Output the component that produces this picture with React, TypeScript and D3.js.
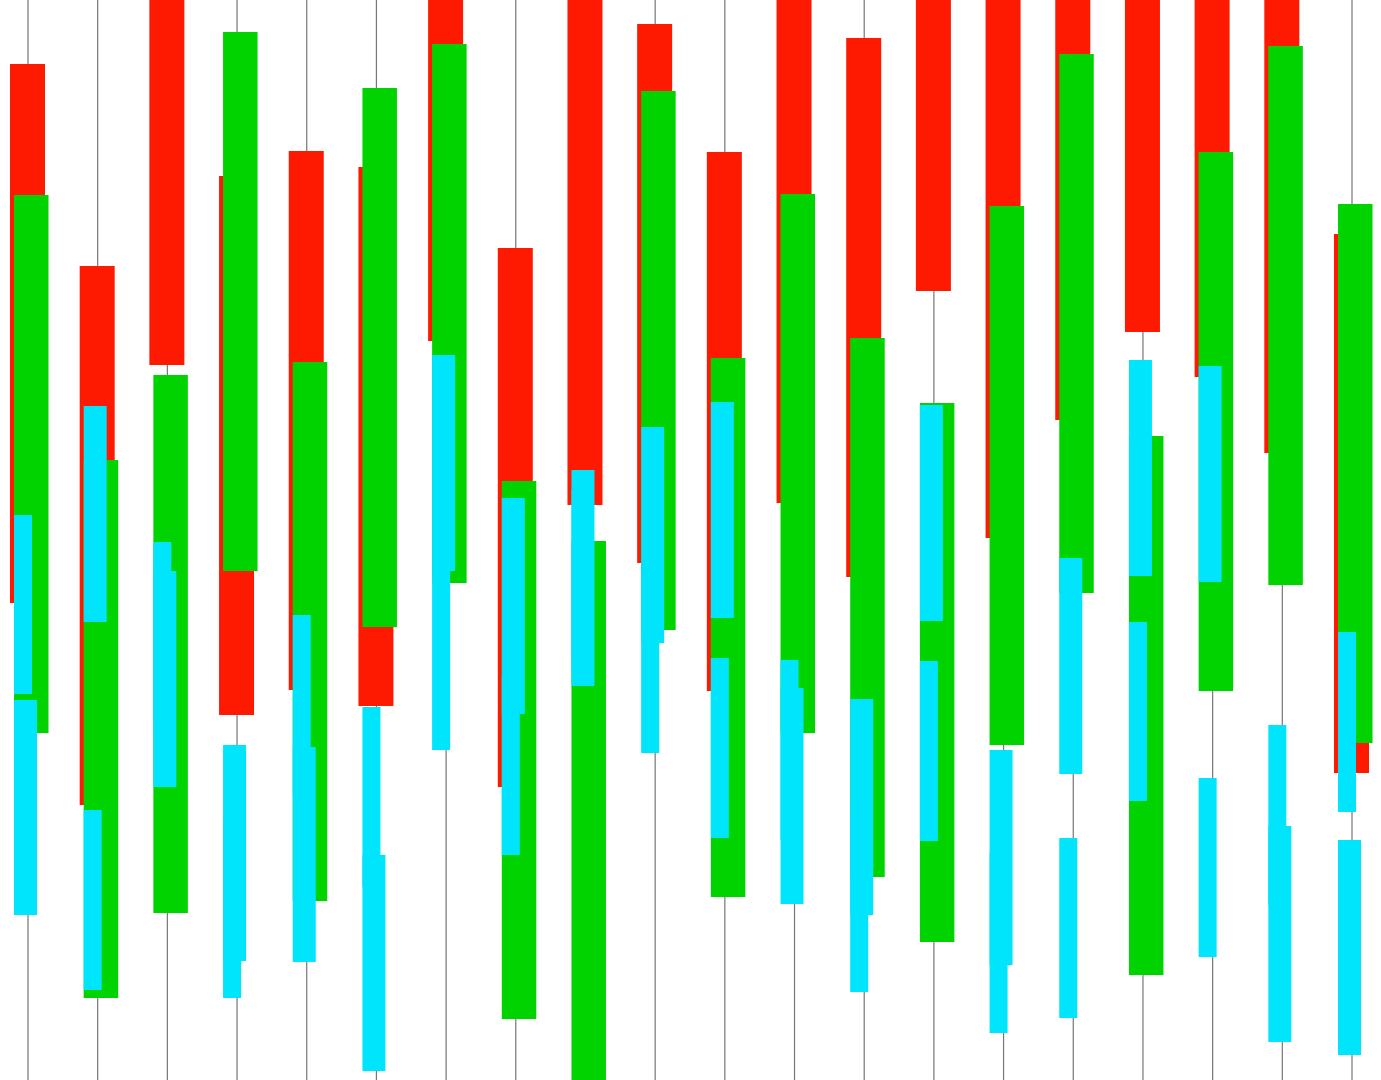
import * as d3 from "d3";
import React from "react";

// 20 sessions, no labels shown on the chart
const categories = [
  "D1", "D2", "D3", "D4", "D5", "D6", "D7", "D8", "D9", "D10",
  "D11", "D12", "D13", "D14", "D15", "D16", "D17", "D18", "D19", "D20",
];

// [high, low] of each body, in price units
const redBodies: [number, number][] = [
  [101.6, 47.7], [81.4, 27.5], [125.4, 71.5], [90.4, 36.5], [92.9, 39.0],
  [91.3, 37.4], [127.8, 73.9], [83.2, 29.3], [111.4, 57.5], [105.6, 51.7],
  [92.8, 38.9], [111.6, 57.7], [104.2, 50.3], [132.8, 78.9], [108.1, 54.2],
  [119.9, 66.0], [128.7, 74.8], [124.2, 70.3], [116.6, 62.7], [84.6, 30.7],
];

const greenBodies: [number, number][] = [
  [88.5, 34.7], [62.0, 8.2], [70.5, 16.7], [104.8, 50.9], [71.8, 17.9],
  [99.2, 45.3], [103.6, 49.7], [59.9, 6.1], [53.9, 0.0], [98.9, 45.0],
  [72.2, 18.3], [88.6, 34.7], [74.2, 20.3], [67.7, 13.8], [87.4, 33.5],
  [102.6, 48.7], [64.4, 10.5], [92.8, 38.9], [103.4, 49.5], [87.6, 33.7],
];

const cyanNarrowBodies: [number, number][] = [
  [56.5, 38.6], [27.0, 9.0], [53.8, 35.8], [26.2, 8.2], [46.5, 28.5],
  [37.3, 19.3], [51.0, 33.0], [40.5, 22.5], [59.0, 41.0], [50.7, 32.7],
  [42.2, 24.2], [42.0, 24.0], [26.8, 8.8], [41.9, 23.9], [22.7, 4.7],
  [24.2, 6.2], [45.8, 27.9], [30.2, 12.3], [35.5, 17.5], [44.8, 26.8],
];

const cyanWideBodies: [number, number][] = [
  [38.0, 16.5], [67.4, 45.8], [50.9, 29.3], [33.5, 11.9], [33.3, 11.8],
  [22.5, 0.9], [72.5, 50.9], [58.2, 36.6], [61.0, 39.4], [65.3, 43.7],
  [67.8, 46.2], [39.2, 17.6], [38.1, 16.5], [67.5, 45.9], [33.0, 11.5],
  [52.2, 30.6], [72.0, 50.4], [71.4, 49.8], [25.4, 3.8], [24.0, 2.5],
];

// wicks run past the visible range
const wickHigh = [140, 140, 140, 140, 140, 140, 140, 140, 140, 140,
  140, 140, 140, 140, 140, 140, 140, 140, 140, 140];
const wickLow = [-10, -10, -10, -10, -10, -10, -10, -10, -10, -10,
  -10, -10, -10, -10, -10, -10, -10, -10, -10, -10];

export default function App() {
  const ref = React.useRef<SVGSVGElement>(null);

  React.useEffect(() => {
    if (!ref.current) return;
    const width = 1381;
    const height = 1080;

    const svg = d3.select(ref.current);
    svg.selectAll("*").remove();

    const x = d3.scalePoint<string>().domain(categories).range([28, 1352]);
    const y = d3.scaleLinear().domain([0, 108]).range([height, 0]);

    svg
      .append("rect")
      .attr("width", width)
      .attr("height", height)
      .attr("fill", "#ffffff");

    // wicks
    svg
      .append("g")
      .selectAll("line")
      .data(categories)
      .enter()
      .append("line")
      .attr("x1", (d) => x(d) || 0)
      .attr("x2", (d) => x(d) || 0)
      .attr("y1", (_, i) => y(wickHigh[i]))
      .attr("y2", (_, i) => y(wickLow[i]))
      .attr("stroke", "#767676")
      .attr("stroke-width", 1.2);

    const layers = [
      { data: redBodies, fill: "#fe1a00", dx: -18, w: 35 },
      { data: greenBodies, fill: "#00d300", dx: -14, w: 34.5 },
      { data: cyanNarrowBodies, fill: "#00e5fc", dx: -14, w: 18 },
      { data: cyanWideBodies, fill: "#00e5fc", dx: -14, w: 23 },
    ];

    layers.forEach((layer) => {
      svg
        .append("g")
        .selectAll("rect")
        .data(layer.data)
        .enter()
        .append("rect")
        .attr("x", (_, i) => (x(categories[i]) || 0) + layer.dx)
        .attr("y", (d) => y(d[0]))
        .attr("width", layer.w)
        .attr("height", (d) => y(d[1]) - y(d[0]))
        .attr("fill", layer.fill);
    });
  }, []);

  return (
    <svg
      ref={ref}
      width={1381}
      height={1080}
      style={{ position: "absolute", left: 0, top: 0, display: "block" }}
    />
  );
}
